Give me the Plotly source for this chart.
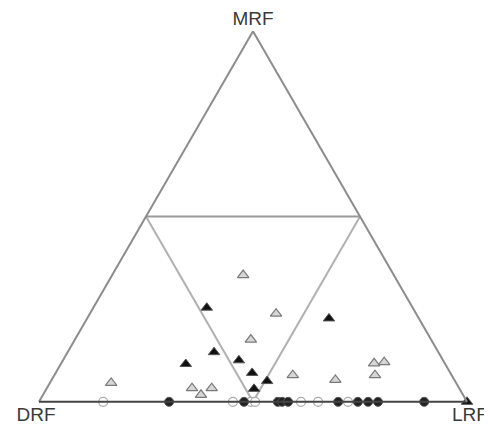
import plotly.graph_objects as go

# Ternary fractions: a = MRF (top), b = DRF (left), c = LRF (right)
blk_tri_mrf = [0.254, 0.225, 0.134, 0.102, 0.112, 0.078, 0.056, 0.035, 0.0]
blk_tri_drf = [0.481, 0.210, 0.524, 0.606, 0.477, 0.463, 0.439, 0.480, 0.0]
blk_tri_lrf = [0.265, 0.565, 0.342, 0.292, 0.411, 0.459, 0.505, 0.485, 1.0]

gry_tri_mrf = [0.342, 0.238, 0.168, 0.072, 0.059, 0.104, 0.107, 0.072, 0.051, 0.037, 0.019, 0.037]
gry_tri_drf = [0.352, 0.327, 0.421, 0.371, 0.278, 0.165, 0.140, 0.179, 0.806, 0.624, 0.612, 0.578]
gry_tri_lrf = [0.306, 0.435, 0.411, 0.557, 0.663, 0.731, 0.753, 0.749, 0.143, 0.339, 0.369, 0.385]

open_circ_lrf = [0.150, 0.453, 0.495, 0.505, 0.612, 0.652, 0.722]
blk_circ_lrf = [0.304, 0.479, 0.558, 0.568, 0.582, 0.699, 0.745, 0.769, 0.792, 0.900]

fig = go.Figure()

# Division lines at 0.5
fig.add_trace(go.Scatterternary(a=[0.5, 0.5], b=[0.5, 0.0], c=[0.0, 0.5], mode="lines",
                                line=dict(color="#9a9a9a", width=2), hoverinfo="skip"))
fig.add_trace(go.Scatterternary(a=[0.5, 0.0], b=[0.5, 0.5], c=[0.0, 0.5], mode="lines",
                                line=dict(color="#b0b0b0", width=2), hoverinfo="skip"))
fig.add_trace(go.Scatterternary(a=[0.5, 0.0], b=[0.0, 0.5], c=[0.5, 0.5], mode="lines",
                                line=dict(color="#b0b0b0", width=2), hoverinfo="skip"))

fig.add_trace(go.Scatterternary(
    a=[0] * len(open_circ_lrf), b=[1 - v for v in open_circ_lrf], c=open_circ_lrf,
    mode="markers", cliponaxis=False,
    marker=dict(symbol="circle", size=9, color="white",
                line=dict(color="#aaaaaa", width=1.2))))
fig.add_trace(go.Scatterternary(
    a=[0] * len(blk_circ_lrf), b=[1 - v for v in blk_circ_lrf], c=blk_circ_lrf,
    mode="markers", cliponaxis=False,
    marker=dict(symbol="circle", size=9, color="#222222",
                line=dict(color="#555555", width=1))))
fig.add_trace(go.Scatterternary(
    a=gry_tri_mrf, b=gry_tri_drf, c=gry_tri_lrf,
    mode="markers", cliponaxis=False,
    marker=dict(symbol="triangle-up", size=10, color="#d6d6d6",
                line=dict(color="#7a7a7a", width=1.2))))
fig.add_trace(go.Scatterternary(
    a=blk_tri_mrf, b=blk_tri_drf, c=blk_tri_lrf,
    mode="markers", cliponaxis=False,
    marker=dict(symbol="triangle-up", size=10, color="#111111",
                line=dict(color="#555555", width=1))))

axis_common = dict(showgrid=False, showticklabels=False, ticks="", linewidth=2,
                   min=0)
title_font = dict(size=19, color="#3a3a3a", family="Arial, Liberation Sans, sans-serif")
fig.update_layout(
    width=492, height=427,
    margin=dict(l=31, r=33, t=23, b=33),
    paper_bgcolor="white",
    showlegend=False,
    font=dict(family="Arial, Liberation Sans, sans-serif", color="#333333"),
    ternary=dict(
        bgcolor="white",
        sum=1,
        aaxis=dict(title=dict(text="MRF", font=title_font),
                   linecolor="#8c8c8c", **axis_common),
        baxis=dict(title=dict(text="DRF", font=title_font),
                   linecolor="#444444", **axis_common),
        caxis=dict(title=dict(text="LRF", font=title_font),
                   linecolor="#8c8c8c", **axis_common),
    ),
)

fig.write_html("out.html")
